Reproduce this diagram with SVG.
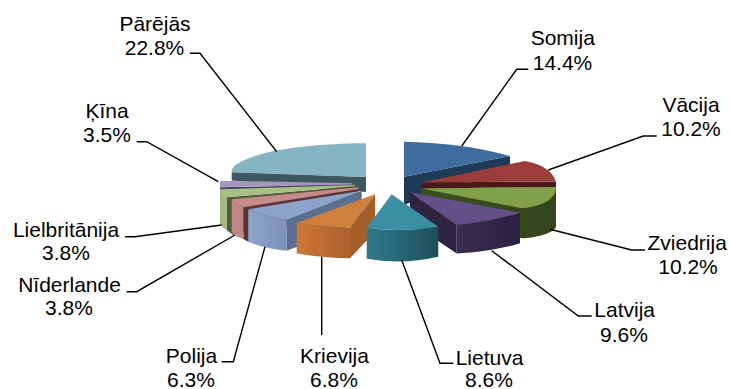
<svg xmlns="http://www.w3.org/2000/svg" width="730" height="389" viewBox="0 0 730 389">
<defs>
<style>
text{font-family:"Liberation Sans",Arial,sans-serif;font-size:21px;fill:#000;text-anchor:middle}
.lead{fill:none;stroke:#000;stroke-width:1.4}
</style>
<linearGradient id="gLiet" x1="0" x2="1" y1="0" y2="0"><stop offset="0" stop-color="#2F7B8C"/><stop offset="1" stop-color="#1F4F5B"/></linearGradient>
<linearGradient id="gKriev" x1="0" x2="1" y1="0" y2="0"><stop offset="0" stop-color="#CD7735"/><stop offset="1" stop-color="#AC622A"/></linearGradient>
<linearGradient id="gPol" x1="0" x2="1" y1="0" y2="0"><stop offset="0" stop-color="#8DA4CB"/><stop offset="1" stop-color="#7C92B9"/></linearGradient>
<linearGradient id="gLat" x1="0" x2="1" y1="0" y2="0"><stop offset="0" stop-color="#3A2D51"/><stop offset="1" stop-color="#2A2040"/></linearGradient>
<linearGradient id="gZv" x1="0" x2="1" y1="0" y2="0"><stop offset="0" stop-color="#3D4F20"/><stop offset="1" stop-color="#34441B"/></linearGradient>
</defs>
<rect width="730" height="389" fill="#fff"/>

<g id="slice-parejas">
<path d="M231.7,172 L366,177 L366,192 L231.7,180.5 Z" fill="#3E565E"/>
<path d="M366,143.3 C320,143.5 280,148 255,156 C240,161 231,166 231.7,172.5 L366,177 Z" fill="#85B5C5"/>
</g>
<g id="slice-somija">
<path d="M404,176.7 L510,156 L510,164.5 L404,205 Z" fill="#1E3A56"/>
<path d="M404,141.7 C440,142.5 480,147 510,156 L404,176.7 Z" fill="#3E6C9C"/>
</g>
<g id="slice-vacija">
<path d="M421.7,182.5 L556,181.5 L556,187 L421.7,188.5 Z" fill="#4A1818"/>
<path d="M421.7,182.5 L525,161 C540,163.5 552,170 556,181.5 Z" fill="#9C3D3B"/>
</g>
<g id="slice-kina">
<path d="M220,187.3 L352,184.5 L352,187.5 L220,190 Z" fill="#4A4262"/>
<path d="M220,180.7 L352,183.3 L352,184.5 L220,187.3 Z" fill="#A598C0"/>
</g>
<g id="slice-lielbritanija">
<path d="M226.7,197.3 L355,186 L355,196 L233,235 L226.7,230 Z" fill="#505E38"/>
<path d="M220,189.3 L355,185 L355,186 L226.7,197.3 Q222,194 220,189.3 Z" fill="#A9C085"/>
<path d="M220,189.3 Q222,194 226.7,197.3 L226.7,230 Q222,228 220,223.3 Z" fill="#A2B87E"/>
</g>
<g id="slice-zviedrija">
<path d="M421.7,188.5 L556,187 L556,226.7 C554,232 540,237.5 521.7,238.3 L421.7,218 Z" fill="url(#gZv)"/>
<path d="M421.7,188.5 L556,187 C556,198 545,206 521.7,208.3 Z" fill="#80A04A"/>
</g>
<g id="slice-niderlande">
<path d="M243.3,207.3 L358.3,189 L358.3,200 L248.3,241.7 L243.3,239 Z" fill="#5C3434"/>
<path d="M231.7,199.3 L358.3,187.3 L358.3,189 L243.3,207.3 Q236,204 231.7,199.3 Z" fill="#C78B8B"/>
<path d="M231.7,199.3 Q236,204 243.3,207.3 L243.3,239 Q236,237 231.7,232 Z" fill="#C08585"/>
</g>
<g id="slice-polija">
<path d="M286.7,220 L361.7,190.7 L361.7,222 L286.7,250.7 Z" fill="#5B6F8F"/>
<path d="M248.3,209.3 L361.7,190.7 L286.7,220 Q265,217 248.3,209.3 Z" fill="#8CA4CC"/>
<path d="M248.3,209.3 Q265,217 286.7,220 L286.7,250.7 Q265,249 248.3,241.7 Z" fill="url(#gPol)"/>
</g>
<g id="slice-latvija">
<path d="M410,192.3 L456.7,225 L456.7,253.5 L410,222 Z" fill="#2E2442"/>
<path d="M520,212.7 C505,217.5 480,222.5 456.7,225 L456.7,253.5 C480,252.5 505,248 520,243.3 Z" fill="url(#gLat)"/>
<path d="M410,192.3 L520,212.7 C505,217.5 480,222.5 456.7,225 Z" fill="#654F88"/>
</g>
<g id="slice-krievija">
<path d="M375,194.3 L375,231.7 L350,258.3 L350,227.7 Z" fill="#A65E28"/>
<path d="M296.7,223 Q323,227 350,227.7 L350,258.3 Q323,258 296.7,253.5 Z" fill="url(#gKriev)"/>
<path d="M375,194.3 L350,227.7 Q323,227 296.7,223 Z" fill="#D0803C"/>
</g>
<g id="slice-lietuva">
<path d="M366.7,227.7 Q402,233 438.3,226.7 L438.3,256.7 Q402,265 366.7,258.7 Z" fill="url(#gLiet)"/>
<path d="M391.7,194.3 L438.3,226.7 Q402,233 366.7,227.7 Z" fill="#3B8FA2"/>
</g>

<g id="connectors">
<path class="lead" d="M190,53.3 H200 L276.7,151.7"/>
<path class="lead" d="M136.7,141.7 H146.7 L218.3,181.7"/>
<path class="lead" d="M125,236.7 H135 L221.7,225"/>
<path class="lead" d="M126.7,291.7 H136.7 L235,235"/>
<path class="lead" d="M221.7,361.7 H233.3 L265,246.7"/>
<path class="lead" d="M321.7,256.7 V335"/>
<path class="lead" d="M528.3,69.3 H516.7 L461.7,146"/>
<path class="lead" d="M656.7,136 H643.3 L548.3,170"/>
<path class="lead" d="M645,250 H631.7 L550,229.3"/>
<path class="lead" d="M591.7,316 H578.3 L491.7,250.7"/>
<path class="lead" d="M453.3,363.3 H440 L401.7,260"/>
</g>

<g id="labels">
<g id="label-parejas"><text x="155" y="31">Pārējās</text><text x="154.5" y="55">22.8%</text></g>
<g id="label-kina"><text x="107" y="118">Ķīna</text><text x="107" y="141.7">3.5%</text></g>
<g id="label-lielbritanija"><text x="66" y="236.7">Lielbritānija</text><text x="66" y="260">3.8%</text></g>
<g id="label-niderlande"><text x="69.5" y="291.7">Nīderlande</text><text x="69" y="315">3.8%</text></g>
<g id="label-polija"><text x="191.5" y="362.5">Polija</text><text x="191" y="386.5">6.3%</text></g>
<g id="label-krievija"><text x="334.5" y="362.5">Krievija</text><text x="334" y="386.5">6.8%</text></g>
<g id="label-lietuva"><text x="489.5" y="364.5">Lietuva</text><text x="489" y="386.5">8.6%</text></g>
<g id="label-latvija"><text x="624.7" y="317.3">Latvija</text><text x="624" y="341.5">9.6%</text></g>
<g id="label-zviedrija"><text x="687.2" y="250">Zviedrija</text><text x="688" y="274">10.2%</text></g>
<g id="label-vacija"><text x="691" y="111.5">Vācija</text><text x="691" y="136">10.2%</text></g>
<g id="label-somija"><text x="562.8" y="45">Somija</text><text x="562.5" y="69.5">14.4%</text></g>
</g>
</svg>
